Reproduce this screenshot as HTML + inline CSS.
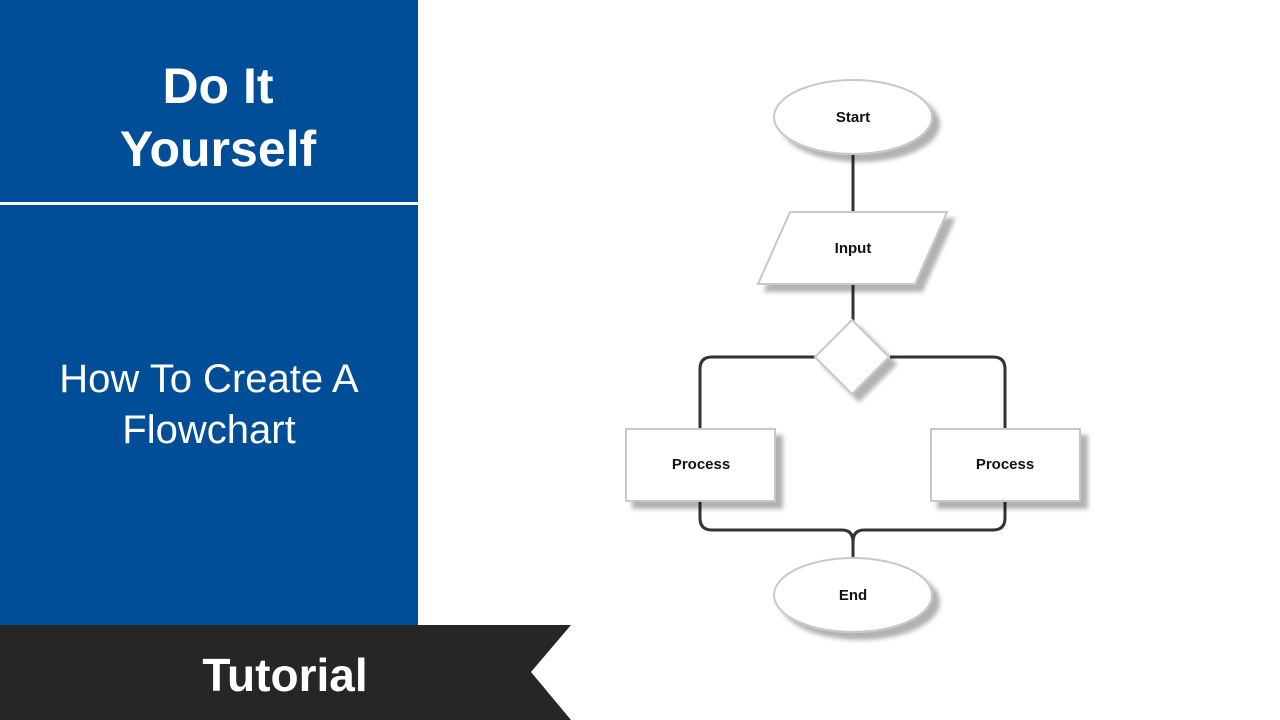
<!DOCTYPE html>
<html><head><style>
body{margin:0;width:1280px;height:720px;position:relative;background:#fff;overflow:hidden;font-family:"Liberation Sans",sans-serif}
.blue{position:absolute;left:0;top:0;width:418px;height:625px;background:#004e98}
.t1{position:absolute;left:9px;width:418px;text-align:center;color:#fff;font-weight:bold;font-size:50px;line-height:60px}
.hr{position:absolute;left:0;top:202px;width:418px;height:3px;background:#fff}
.t2{position:absolute;left:0;top:354px;width:418px;text-align:center;color:#fff;font-size:40px;line-height:51px}
</style></head><body>
<div class="blue"></div>
<div class="t1" style="top:56px">Do It</div>
<div class="t1" style="top:119px">Yourself</div>
<div class="hr"></div>
<div class="t2">How To Create A<br>Flowchart</div>
<svg width="1280" height="720" style="position:absolute;left:0;top:0">
<defs><filter id="s" x="-20%" y="-20%" width="150%" height="160%"><feDropShadow dx="7" dy="7" stdDeviation="2" flood-color="#000" flood-opacity="0.3"/></filter></defs>
<polygon points="0,625 571,625 531,672 571,720 0,720" fill="#262626"/>
<text x="285" y="691" text-anchor="middle" font-family="Liberation Sans" font-weight="bold" font-size="46" fill="#fff">Tutorial</text>
<g fill="none" stroke="#333" stroke-width="3">
<line x1="853" y1="150" x2="853" y2="214"/>
<line x1="853" y1="282" x2="853" y2="322"/>
<path d="M815 357 H712 Q700 357 700 369 V430"/>
<path d="M890 357 H993 Q1005 357 1005 369 V430"/>
<path d="M700 500 V518 Q700 530 712 530 H842 Q853 530 853 542 V560"/>
<path d="M1005 500 V518 Q1005 530 993 530 H864 Q853 530 853 542"/>
</g>
<g fill="#fff" stroke="#c8c8c8" stroke-width="2" filter="url(#s)">
<ellipse cx="853" cy="117" rx="79" ry="37"/>
<polygon points="790,212 947,212 915,284 758,284"/>
<polygon points="852,320 889,357 852,394 815,357"/>
<rect x="626" y="429" width="149" height="72"/>
<rect x="931" y="429" width="149" height="72"/>
<ellipse cx="853" cy="595" rx="79" ry="37"/>
</g>
<g font-family="Liberation Sans" font-weight="bold" font-size="15" text-anchor="middle" fill="#111">
<text x="853" y="122">Start</text>
<text x="853" y="253">Input</text>
<text x="701" y="469">Process</text>
<text x="1005" y="469">Process</text>
<text x="853" y="600">End</text>
</g>
</svg>
</body></html>
